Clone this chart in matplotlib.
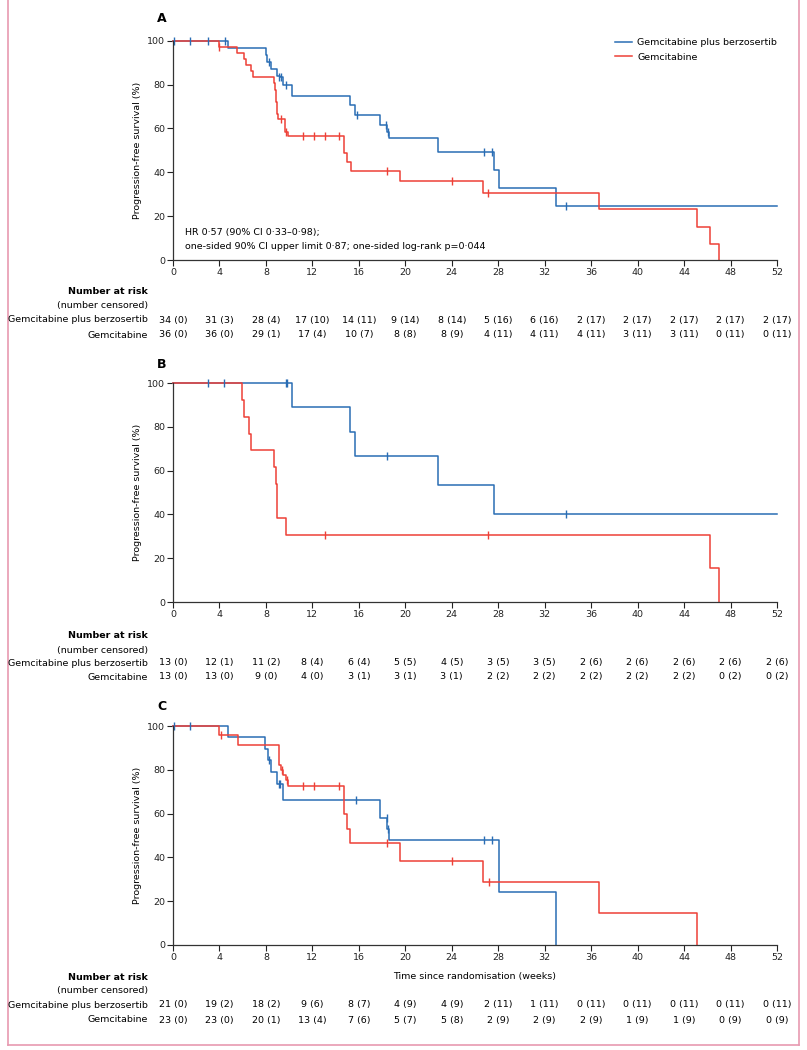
import matplotlib.pyplot as plt
import matplotlib.transforms as mtransforms
from matplotlib.lines import Line2D

plt.rcParams['font.family'] = 'DejaVu Sans'
FS = 6.8
BLUE = '#2a6db4'
RED = '#ee4037'
W, H = 807, 1050

weeks = list(range(0, 53, 4))

# Panel A - step curves (time in weeks, PFS %)
a_bz_t = [0, 4.73, 8.0, 8.1, 8.4, 8.95, 9.2, 9.46, 10.27, 15.25, 15.7, 17.8, 18.4, 18.6, 22.85, 27.67, 28.1, 33.0, 52]
a_bz_s = [100, 96.8, 93.5, 90.3, 86.9, 83.9, 83.3, 79.8, 74.9, 70.5, 66.1, 61.6, 58.5, 55.6, 49.4, 41.0, 32.8, 24.6, 24.6]
a_bz_ct = [0.06, 1.43, 2.98, 4.5, 8.25, 9.1, 9.3, 9.75, 15.8, 18.3, 18.5, 26.8, 27.5, 33.8]
a_bz_cs = [100, 100, 100, 100, 90.3, 83.3, 83.3, 79.8, 66.1, 61.6, 58.5, 49.4, 49.4, 24.6]
a_g_t = [0, 3.93, 5.5, 6.1, 6.3, 6.7, 6.9, 8.66, 8.75, 8.85, 8.95, 9.05, 9.6, 9.86, 14.68, 14.75, 15.0, 15.3, 19.55, 26.7, 36.7, 45.1, 46.2, 46.97]
a_g_s = [100, 97.2, 94.4, 91.7, 88.9, 86.1, 83.3, 80.5, 77.7, 72.0, 66.5, 64.1, 58.5, 56.7, 52.5, 48.6, 44.8, 40.7, 36.2, 30.7, 23.1, 15.2, 7.4, 0]
a_g_ct = [4.0, 9.3, 9.75, 11.15, 12.16, 13.1, 14.25, 18.4, 24.0, 27.15]
a_g_cs = [97.2, 64.1, 58.5, 56.7, 56.7, 56.7, 56.7, 40.7, 36.2, 30.7]
a_bz_risk = ['34 (0)', '31 (3)', '28 (4)', '17 (10)', '14 (11)', '9 (14)', '8 (14)', '5 (16)', '6 (16)', '2 (17)', '2 (17)', '2 (17)', '2 (17)', '2 (17)']
a_g_risk = ['36 (0)', '36 (0)', '29 (1)', '17 (4)', '10 (7)', '8 (8)', '8 (9)', '4 (11)', '4 (11)', '4 (11)', '3 (11)', '3 (11)', '0 (11)', '0 (11)']

# Panel B
b_bz_t = [0, 10.27, 15.25, 15.71, 22.8, 27.67, 52]
b_bz_s = [100, 88.9, 77.8, 66.7, 53.3, 40.0, 40.0]
b_bz_ct = [2.98, 4.42, 9.72, 9.82, 18.4, 33.8]
b_bz_cs = [100, 100, 100, 100, 66.7, 40.0]
b_g_t = [0, 5.94, 6.14, 6.57, 6.71, 8.66, 8.83, 8.97, 9.69, 46.2, 46.97]
b_g_s = [100, 92.3, 84.6, 76.9, 69.2, 61.5, 53.8, 38.5, 30.8, 15.4, 0]
b_g_ct = [13.1, 27.15]
b_g_cs = [30.8, 30.8]
b_bz_risk = ['13 (0)', '12 (1)', '11 (2)', '8 (4)', '6 (4)', '5 (5)', '4 (5)', '3 (5)', '3 (5)', '2 (6)', '2 (6)', '2 (6)', '2 (6)', '2 (6)']
b_g_risk = ['13 (0)', '13 (0)', '9 (0)', '4 (0)', '3 (1)', '3 (1)', '3 (1)', '2 (2)', '2 (2)', '2 (2)', '2 (2)', '2 (2)', '0 (2)', '0 (2)']

# Panel C
c_bz_t = [0, 4.73, 7.94, 8.15, 8.4, 8.95, 9.43, 17.84, 18.45, 18.6, 28.1, 33.0]
c_bz_s = [100, 95.2, 89.5, 84.3, 79.0, 73.6, 66.0, 57.8, 52.9, 48.0, 24.1, 0]
c_bz_ct = [0.06, 1.43, 8.25, 9.15, 9.25, 15.77, 18.4, 18.55, 26.8, 27.5]
c_bz_cs = [100, 100, 84.3, 73.6, 73.6, 66.0, 57.8, 52.9, 48.0, 48.0]
c_g_t = [0, 3.93, 5.6, 9.15, 9.3, 9.5, 9.7, 9.9, 14.68, 14.97, 15.2, 19.55, 26.67, 36.7, 45.07]
c_g_s = [100, 95.7, 91.3, 82.1, 80.1, 77.5, 75.2, 72.6, 59.6, 52.9, 46.4, 38.5, 28.9, 14.5, 0]
c_g_ct = [4.1, 9.35, 9.8, 11.15, 12.16, 14.25, 18.4, 24.0, 27.24]
c_g_cs = [95.7, 80.1, 75.2, 72.6, 72.6, 72.6, 46.4, 38.5, 28.9]
c_bz_risk = ['21 (0)', '19 (2)', '18 (2)', '9 (6)', '8 (7)', '4 (9)', '4 (9)', '2 (11)', '1 (11)', '0 (11)', '0 (11)', '0 (11)', '0 (11)', '0 (11)']
c_g_risk = ['23 (0)', '23 (0)', '20 (1)', '13 (4)', '7 (6)', '5 (7)', '5 (8)', '2 (9)', '2 (9)', '2 (9)', '1 (9)', '1 (9)', '0 (9)', '0 (9)']


def fy(px):
    return 1 - px / H


fig = plt.figure(figsize=(W / 100, H / 100), dpi=100)


def draw_panel(label, label_y, top, bottom, bz, g, bz_risk, g_risk, rows_y):
    ax = fig.add_axes([173 / W, fy(bottom), 604 / W, (bottom - top) / H])
    ax.step(bz[0], bz[1], where='post', color=BLUE, lw=1.1, clip_on=False,
            label='Gemcitabine plus berzosertib')
    ax.step(g[0], g[1], where='post', color=RED, lw=1.1, clip_on=False,
            label='Gemcitabine')
    ax.plot(bz[2], bz[3], ls='none', marker='|', ms=6, mew=1.0, color=BLUE, clip_on=False)
    ax.plot(g[2], g[3], ls='none', marker='|', ms=6, mew=1.0, color=RED, clip_on=False)
    ax.set_xlim(0, 52)
    ax.set_ylim(0, 100)
    ax.set_xticks(weeks)
    ax.set_yticks(range(0, 101, 20))
    for s in ['top', 'right']:
        ax.spines[s].set_visible(False)
    for s in ['left', 'bottom']:
        ax.spines[s].set_linewidth(0.9)
        ax.spines[s].set_color('#333333')
    ax.tick_params(direction='out', length=4, width=0.8, labelsize=FS, pad=1.5, colors='#222222')
    ax.set_ylabel('Progression-free survival (%)', fontsize=FS, labelpad=4)
    fig.text(157 / W, fy(label_y), label, fontsize=9, weight='bold', va='center')

    tr = mtransforms.blended_transform_factory(ax.transData, fig.transFigure)
    fig.text(148 / W, fy(rows_y[0]), 'Number at risk', fontsize=FS, weight='bold',
             ha='right', va='center')
    fig.text(148 / W, fy(rows_y[1]), '(number censored)', fontsize=FS,
             ha='right', va='center')
    fig.text(148 / W, fy(rows_y[2]), 'Gemcitabine plus berzosertib', fontsize=FS,
             ha='right', va='center')
    fig.text(148 / W, fy(rows_y[3]), 'Gemcitabine', fontsize=FS,
             ha='right', va='center')
    for wk, r1, r2 in zip(weeks, bz_risk, g_risk):
        ax.text(wk, fy(rows_y[2]), r1, transform=tr, fontsize=FS, ha='center', va='center')
        ax.text(wk, fy(rows_y[3]), r2, transform=tr, fontsize=FS, ha='center', va='center')
    return ax


axA = draw_panel('A', 19, 40.7, 260,
                 (a_bz_t, a_bz_s, a_bz_ct, a_bz_cs), (a_g_t, a_g_s, a_g_ct, a_g_cs),
                 a_bz_risk, a_g_risk, [291, 305, 320, 335])
axA.legend(loc='upper right', bbox_to_anchor=(1.0, 1.012), frameon=False, fontsize=FS,
           handlelength=1.8, handletextpad=0.5, borderpad=0, borderaxespad=0,
           labelspacing=0.6)
fig.text(185 / W, fy(232), 'HR 0·57 (90% CI 0·33–0·98);', fontsize=FS, va='center')
fig.text(185 / W, fy(246.5), 'one-sided 90% CI upper limit 0·87; one-sided log-rank p=0·044',
         fontsize=FS, va='center')

draw_panel('B', 365, 383, 602,
           (b_bz_t, b_bz_s, b_bz_ct, b_bz_cs), (b_g_t, b_g_s, b_g_ct, b_g_cs),
           b_bz_risk, b_g_risk, [636, 650, 663, 677])

axC = draw_panel('C', 707, 726, 945,
                 (c_bz_t, c_bz_s, c_bz_ct, c_bz_cs), (c_g_t, c_g_s, c_g_ct, c_g_cs),
                 c_bz_risk, c_g_risk, [977, 991, 1005, 1020])
fig.text((173 + 302) / W, fy(976), 'Time since randomisation (weeks)', fontsize=FS,
         ha='center', va='center')

# pink frame
pink = '#e79ab0'
fig.add_artist(Line2D([8 / W, 8 / W], [fy(1045), 1], transform=fig.transFigure, color=pink, lw=1.2))
fig.add_artist(Line2D([799 / W, 799 / W], [fy(1045), 1], transform=fig.transFigure, color=pink, lw=1.2))
fig.add_artist(Line2D([8 / W, 799 / W], [fy(1045), fy(1045)], transform=fig.transFigure, color=pink, lw=1.2))

fig.savefig('out.png', dpi=100)
